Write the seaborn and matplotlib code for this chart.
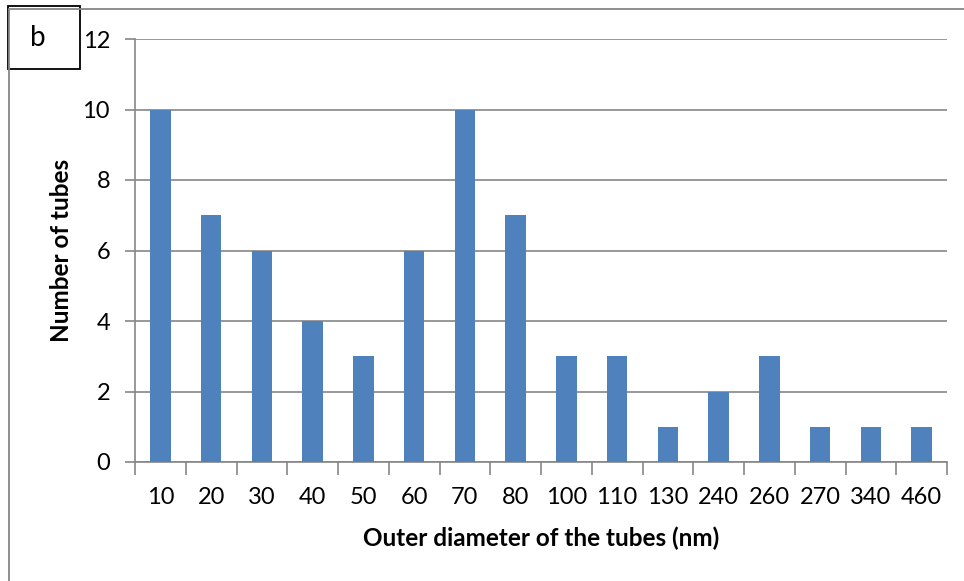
import matplotlib
matplotlib.use("Agg")
import matplotlib.pyplot as plt
from matplotlib.patches import Rectangle
import seaborn as sns
import pandas as pd

diameters = ["10", "20", "30", "40", "50", "60", "70", "80", "100", "110",
             "130", "240", "260", "270", "340", "460"]
counts = [10, 7, 6, 4, 3, 6, 10, 7, 3, 3, 1, 2, 3, 1, 1, 1]
y_ticks = [0, 2, 4, 6, 8, 10, 12]

df = pd.DataFrame({"diameter": diameters, "count": counts})

sns.set_theme(style="white")
plt.rcParams["font.family"] = ["Lato", "DejaVu Sans"]

fig = plt.figure(figsize=(9.64, 5.81), dpi=100)
ax = fig.add_axes([135 / 964, 1 - 462 / 581, (947 - 135) / 964, (462 - 39) / 581])

sns.barplot(data=df, x="diameter", y="count", color="#4F81BD", width=0.4,
            saturation=1, linewidth=0, ax=ax, zorder=3)

grid_c = "#868686"
ax.set_ylim(0, 12)
ax.set_xlim(-0.5, len(diameters) - 0.5)
ax.set_yticks(y_ticks)
ax.yaxis.grid(True, color=grid_c, linewidth=1.2, zorder=0)
ax.set_axisbelow(True)
for s in ["top", "right"]:
    ax.spines[s].set_visible(False)
for s in ["left", "bottom"]:
    ax.spines[s].set_color(grid_c)
    ax.spines[s].set_linewidth(1.2)

# x ticks at category boundaries, labels centred on each bar
ax.set_xticks([i - 0.5 for i in range(len(diameters) + 1)], minor=False)
ax.set_xticklabels([])
ax.set_xticks(range(len(diameters)), minor=True)
ax.set_xticklabels(diameters, minor=True)
ax.tick_params(axis="x", which="major", length=9, width=1.2, color=grid_c, direction="out", bottom=True)
ax.tick_params(axis="x", which="minor", length=0, labelsize=17, pad=18, labelcolor="black")
ax.tick_params(axis="y", length=7, width=1.2, color=grid_c, direction="out", left=True,
               labelsize=17, pad=11, labelcolor="black")

ax.set_xlabel("Outer diameter of the tubes (nm)", fontsize=17.5, fontweight="bold",
              labelpad=13, color="black")
ax.set_ylabel("Number of tubes", fontsize=17.5, fontweight="bold", labelpad=7, color="black")

# chart area frame and panel label
fig.add_artist(plt.Line2D([9 / 964, 1], [1 - 9 / 581, 1 - 9 / 581], color=grid_c, lw=1.3,
                          transform=fig.transFigure))
fig.add_artist(plt.Line2D([9 / 964, 9 / 964], [0, 1 - 9 / 581], color=grid_c, lw=1.3,
                          transform=fig.transFigure))
fig.add_artist(Rectangle((8 / 964, 1 - 69 / 581), 72 / 964, 63 / 581, transform=fig.transFigure,
                         facecolor="white", edgecolor="black", lw=1.3))
fig.text(38 / 964, 1 - 38 / 581, "b", fontsize=20, ha="center", va="center", color="black")

fig.savefig("out.png", dpi=100)
